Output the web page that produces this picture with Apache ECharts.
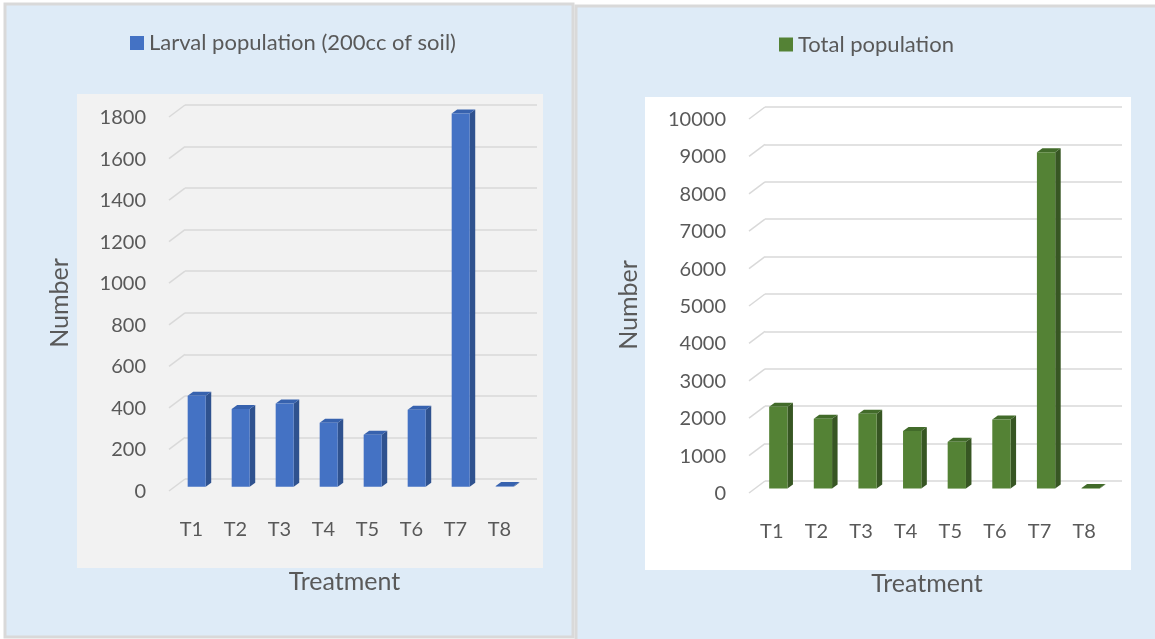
<!DOCTYPE html>
<html>
<head>
<meta charset="utf-8">
<script src="https://cdn.jsdelivr.net/npm/echarts@6/dist/echarts.min.js"></script>
<style>
  html, body { margin: 0; padding: 0; background: #ffffff; }
  #chart { width: 1155px; height: 639px; }
</style>
</head>
<body>
<div id="chart"></div>
<script>
// Treatments and counts for the two panels
const categories = ['T1', 'T2', 'T3', 'T4', 'T5', 'T6', 'T7', 'T8'];
const larvalValues = [438, 374, 400, 308, 250, 370, 1796, 3];
const totalValues = [2190, 1870, 2000, 1540, 1250, 1850, 8990, 15];
const larvalTicks = [0, 200, 400, 600, 800, 1000, 1200, 1400, 1600, 1800];
const totalTicks = [0, 1000, 2000, 3000, 4000, 5000, 6000, 7000, 8000, 9000, 10000];

const FONT = 'Lato, "Open Sans", sans-serif';
const TEXT = '#595959';
const GRID_LINE = '#D9D9D9';

// Floor depth of the pseudo-3D walls: back wall -> front edge
const FLOOR = { dx: -16, dy: 12 };
// Bar depth (front face -> back face of each column)
const BAR_DEPTH = { dx: 5.5, dy: -4 };

function barRenderer(colors, frontShift) {
  return function (params, api) {
    const i = api.value(0);
    const v = api.value(1);
    const base = api.coord([i, 0]);
    const top = api.coord([i, v]);
    const w = api.size([1, 0])[0] * 0.41;
    const x0 = base[0] + frontShift.dx - w / 2;
    const x1 = x0 + w;
    const yB = base[1] + frontShift.dy;
    const yT = top[1] + frontShift.dy;
    const dX = BAR_DEPTH.dx, dY = BAR_DEPTH.dy;
    return {
      type: 'group',
      children: [
        { type: 'polygon', shape: { points: [[x1, yT], [x1 + dX, yT + dY], [x1 + dX, yB + dY], [x1, yB]] },
          style: { fill: colors.side } },
        { type: 'polygon', shape: { points: [[x0, yT], [x0 + dX, yT + dY], [x1 + dX, yT + dY], [x1, yT]] },
          style: { fill: colors.top } },
        { type: 'polygon', shape: { points: [[x0, yB], [x0, yT], [x1, yT], [x1, yB]] },
          style: { fill: colors.front } }
      ]
    };
  };
}

// Short slanted lines on the left wall, one per tick
function sideWallRenderer(params, api) {
  const p = api.coord([0, api.value(1)]);
  const x = params.coordSys.x;
  return {
    type: 'line',
    shape: { x1: x, y1: p[1], x2: x + FLOOR.dx, y2: p[1] + FLOOR.dy },
    style: { stroke: GRID_LINE, lineWidth: 1.5 }
  };
}

function xAxisFor(gridIndex) {
  return {
    type: 'category', gridIndex, data: categories,
    axisLine: { show: false }, axisTick: { show: false },
    axisLabel: { interval: 0, margin: 41, padding: [0, 31, 0, 0], fontSize: 20, color: TEXT, fontFamily: FONT },
    name: 'Treatment', nameLocation: 'middle', nameGap: 90,
    nameTextStyle: { fontSize: 25, color: TEXT, fontFamily: FONT, padding: [0, 33, 0, 0] }
  };
}

function yAxisFor(gridIndex, max, interval, nameGap) {
  return {
    type: 'value', gridIndex, min: 0, max, interval,
    axisLine: { show: false }, axisTick: { show: false },
    splitLine: { lineStyle: { color: GRID_LINE, width: 1.5 } },
    axisLabel: { margin: 39, verticalAlign: 'top', lineHeight: 25, fontSize: 20, color: TEXT, fontFamily: FONT,
      formatter: v => String(v) },
    name: 'Number', nameLocation: 'middle', nameGap,
    nameTextStyle: { fontSize: 25, color: TEXT, fontFamily: FONT, padding: [0, 22, 0, 0] }
  };
}

const blue = { front: '#4472C4', side: '#2F528F', top: '#3762AE' };
const green = { front: '#548235', side: '#375623', top: '#426B2A' };

const chart = echarts.init(document.getElementById('chart'), null, { renderer: 'canvas' });
chart.setOption({
  animation: false,
  graphic: { elements: [
    { type: 'rect', z: -100, shape: { x: 5, y: 4, width: 568, height: 633 },
      style: { fill: '#DEEBF7', stroke: '#D9D9D9', lineWidth: 3 } },
    { type: 'rect', z: -100, shape: { x: 576, y: 6, width: 590, height: 640 },
      style: { fill: '#DEEBF7', stroke: '#D9D9D9', lineWidth: 3 } },
    { type: 'rect', z: -90, shape: { x: 77, y: 94, width: 466, height: 474 }, style: { fill: '#F2F2F2' } },
    { type: 'rect', z: -90, shape: { x: 645, y: 97, width: 486, height: 473 }, style: { fill: '#FFFFFF' } }
  ] },
  legend: [
    { data: ['Larval population (200cc of soil)'], left: 130, top: 32, padding: 0, icon: 'rect',
      itemWidth: 14, itemHeight: 14, textStyle: { fontSize: 22, color: TEXT, fontFamily: FONT } },
    { data: ['Total population'], left: 779, top: 33.5, padding: 0, icon: 'rect',
      itemWidth: 14, itemHeight: 14, textStyle: { fontSize: 22, color: TEXT, fontFamily: FONT } }
  ],
  grid: [
    { left: 185, top: 105, width: 352, height: 374 },
    { left: 765, top: 107, width: 357, height: 374 }
  ],
  xAxis: [xAxisFor(0), xAxisFor(1)],
  yAxis: [yAxisFor(0, 1800, 200, 113), yAxisFor(1, 10000, 1000, 124)],
  series: [
    { type: 'custom', name: 'sideWallLeft', xAxisIndex: 0, yAxisIndex: 0, silent: true,
      data: larvalTicks.map(t => [0, t]), encode: { x: 0, y: 1 }, renderItem: sideWallRenderer },
    { type: 'custom', name: 'sideWallRight', xAxisIndex: 1, yAxisIndex: 1, silent: true,
      data: totalTicks.map(t => [0, t]), encode: { x: 0, y: 1 }, renderItem: sideWallRenderer },
    { type: 'custom', name: 'Larval population (200cc of soil)', xAxisIndex: 0, yAxisIndex: 0,
      itemStyle: { color: blue.front },
      data: larvalValues.map((v, i) => [i, v]), encode: { x: 0, y: 1 },
      renderItem: barRenderer(blue, { dx: -10.3, dy: 7.7 }) },
    { type: 'custom', name: 'Total population', xAxisIndex: 1, yAxisIndex: 1,
      itemStyle: { color: green.front },
      data: totalValues.map((v, i) => [i, v]), encode: { x: 0, y: 1 },
      renderItem: barRenderer(green, { dx: -9, dy: 7.6 }) }
  ]
});
</script>
</body>
</html>
